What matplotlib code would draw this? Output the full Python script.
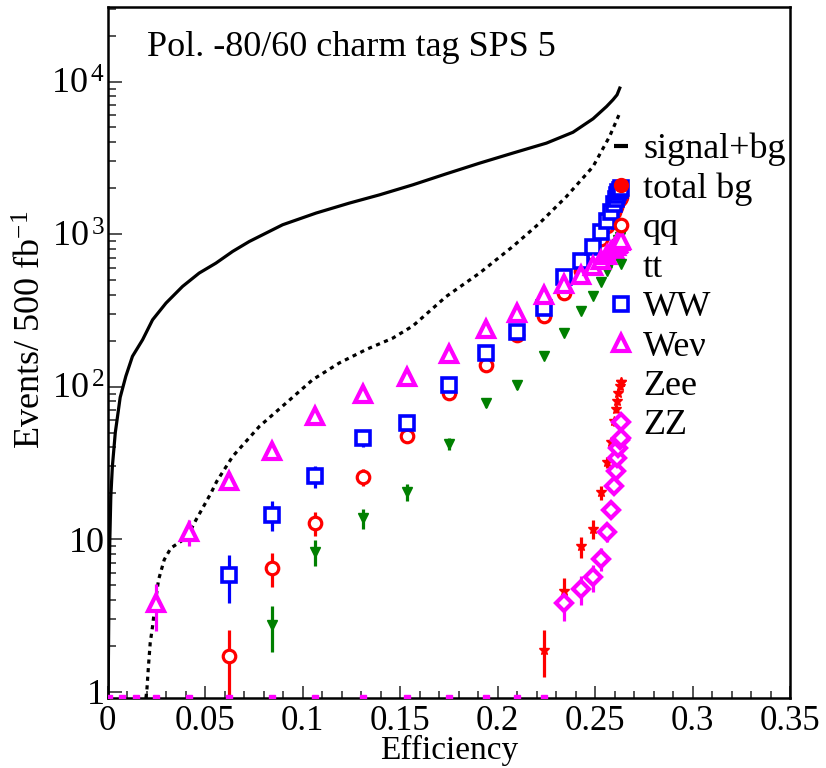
import numpy as np
import matplotlib
matplotlib.use('Agg')
import matplotlib.pyplot as plt
from matplotlib.lines import Line2D
from matplotlib.ticker import MultipleLocator, LogLocator, FixedLocator, FixedFormatter, NullFormatter

plt.rcParams['font.family'] = ['Liberation Serif', 'DejaVu Serif']
plt.rcParams['mathtext.fontset'] = 'custom'
plt.rcParams['mathtext.rm'] = 'Liberation Serif'
plt.rcParams['mathtext.it'] = 'Liberation Serif:italic'

# cut points (signal efficiency), shared by all background channels
eff = [0.0010, 0.0072, 0.0144, 0.0250, 0.0416, 0.0625, 0.0844, 0.1066, 0.1309,
       0.1535, 0.1751, 0.1939, 0.2100, 0.2237, 0.2339, 0.2430, 0.2490, 0.2533,
       0.2564, 0.2584, 0.2596, 0.2606, 0.2615, 0.2620, 0.2627, 0.2632]

qq = [0, 0, 0, 0, 0, 1.71, 6.48, 12.8, 25.6, 47.7, 90.8, 139, 219, 292, 410, 577,
      743, 927, 1133, 1280, 1400, 1500, 1590, 1650, 1710, 1760]
qq_err = [0, 0, 0, 0, 0, 0.83, 1.61, 2.26, 3.2, 4.37, 6.03, 7.46, 9.36, 10.8, 12.8,
          15.2, 17.2, 19.3, 21.3, 22.6, 23.7, 24.5, 25.2, 25.7, 26.2, 26.5]

tt = [0, 0, 0, 0, 0, 0, 2.75, 8.3, 13.8, 20.4, 42.2, 78.1, 102, 160, 224, 311,
      394, 482, 569, 661, 730, 800, 860, 910, 960, 1000]
tt_err = [0, 0, 0, 0, 0, 0, 0.92, 1.6, 2.07, 2.51, 3.62, 4.92, 5.62, 7.04, 8.33,
          9.82, 11.1, 12.2, 13.3, 14.3, 15.0, 15.7, 16.3, 16.8, 17.3, 17.6]

ww = [0, 0, 0, 0, 0, 5.85, 14.5, 25.8, 46.0, 57.7, 103, 166, 228, 327, 523, 671,
      822, 1025, 1210, 1406, 1570, 1700, 1800, 1880, 1950, 2000]
ww_err = [0, 0, 0, 0, 0, 2.02, 3.19, 4.25, 5.67, 6.36, 8.49, 10.8, 12.6, 15.1, 19.1,
          21.7, 24.0, 26.8, 29.1, 31.4, 33.2, 34.5, 35.5, 36.3, 36.9, 37.4]

wev = [0, 0, 0, 3.8, 11.2, 24.2, 37.6, 63.8, 89.4, 115.6, 164, 240, 306, 396, 472,
       541, 614, 679, 731, 770, 800, 830, 855, 875, 900, 920]
wev_err = [0, 0, 0, 1.31, 2.24, 3.30, 4.11, 5.36, 6.34, 7.21, 8.59, 10.4, 11.7, 13.3,
           14.6, 15.6, 16.6, 17.5, 18.1, 18.6, 19.0, 19.3, 19.6, 19.8, 20.1, 20.3]

zee = [0, 0, 0, 0, 0, 0, 0, 0, 0, 0, 0, 0, 0, 1.89, 4.55, 8.97, 11.7, 20.3, 31.9,
       43.1, 59.1, 71.3, 80, 90.8, 100.3, 106.6]
zee_err = [0, 0, 0, 0, 0, 0, 0, 0, 0, 0, 0, 0, 0, 0.64, 1.0, 1.4, 1.6, 2.11, 2.65,
           3.08, 3.61, 3.96, 4.2, 4.47, 4.7, 4.84]

zz = [0, 0, 0, 0, 0, 0, 0, 0, 0, 0, 0, 0, 0, 0, 3.82, 4.72, 5.65, 7.45, 11.1, 15.6,
      22.2, 28.1, 34.0, 39.6, 44.9, 46.0]
zz_err = [0, 0, 0, 0, 0, 0, 0, 0, 0, 0, 0, 0, 0, 0, 0.92, 1.02, 1.11, 1.28, 1.56,
          1.85, 2.21, 2.49, 2.73, 2.95, 3.14, 3.18]

# total background curve (dotted)
bg_eff = [0.0197, 0.0202, 0.0210, 0.0219, 0.0231, 0.0245, 0.0262, 0.0291, 0.0325,
          0.0377, 0.0419, 0.0454, 0.0488, 0.0531, 0.0560, 0.0642, 0.0779, 0.0916,
          0.1052, 0.1189, 0.1326, 0.1463, 0.1566, 0.1737, 0.1908, 0.2079, 0.2216,
          0.2353, 0.2490, 0.2575, 0.2623]
bg_val = [0.91, 1.03, 1.47, 2.09, 2.68, 3.82, 5.43, 7.34, 8.75, 9.68, 11.0, 13.4,
          16.0, 20.1, 23.9, 34.9, 54.9, 78.1, 111, 143, 175, 208, 250, 390, 555,
          830, 1180, 1760, 2770, 4370, 6050]

# signal + background curve (solid)
sig_eff = [0.0003, 0.0008, 0.0012, 0.0017, 0.0025, 0.0040, 0.0065, 0.0094, 0.0128,
           0.0180, 0.0231, 0.0300, 0.0385, 0.0470, 0.0556, 0.0642, 0.0727, 0.0898,
           0.1070, 0.1240, 0.1395, 0.1566, 0.1737, 0.1908, 0.2079, 0.2251, 0.2387,
           0.2490, 0.2559, 0.2592, 0.2613, 0.2627]
sig_val = [0.91, 5, 10, 19, 30, 50, 85, 117, 158, 203, 274, 353, 454, 555, 645, 770,
           894, 1151, 1374, 1596, 1808, 2104, 2483, 2917, 3397, 3947, 4650, 5700,
           6855, 7590, 8180, 9060]

labels = ['signal+bg', 'total bg', 'qq', 'tt', 'WW', 'Weν', 'Zee', 'ZZ']
title = 'Pol. -80/60 charm tag SPS 5'

RED = '#ff0000'
BLUE = '#0000ff'
GREEN = '#008000'
MAG = '#ff00ff'
YMIN, YMAX = 0.91, 3.08e4


def nz(v):
    a = np.asarray(v, dtype=float)
    return np.where(a > 0, a, np.nan)


fig = plt.figure(figsize=(8.26, 7.68), dpi=100)
ax = fig.add_axes([107.5 / 826, 70 / 768, 682.5 / 826, 691 / 768])
ax.set_yscale('log')

ax.plot(sig_eff, sig_val, color='black', lw=2.3, zorder=3)
ax.plot(bg_eff, bg_val, color='black', lw=2.3, ls=(0, (1.3, 1.4)), zorder=3)

ebkw = dict(ls='none', capsize=0, elinewidth=2.3, zorder=4)
ax.errorbar(eff, nz(qq), yerr=qq_err, marker='o', ms=9, mfc='white', mec=RED,
            mew=2.3, color=RED, **ebkw)
ax.errorbar(eff, nz(tt), yerr=tt_err, marker='v', ms=7, mfc=GREEN, mec=GREEN,
            color=GREEN, **ebkw)
ax.errorbar(eff, nz(ww), yerr=ww_err, marker='s', ms=10, mfc='white', mec=BLUE,
            mew=2.6, color=BLUE, **ebkw)
ax.errorbar(eff, nz(wev), yerr=wev_err, marker='^', ms=11, mfc='white', mec=MAG,
            mew=3.0, color=MAG, **ebkw)
ax.errorbar(eff, nz(zee), yerr=zee_err, marker='*', ms=7.5, mfc=RED, mec=RED,
            color=RED, **ebkw)
ax.errorbar(eff, nz(zz), yerr=zz_err, marker='D', ms=8, mfc='white', mec=MAG,
            mew=3.0, color=MAG, **ebkw)

# channels with no events sit on the lower edge
zz_arr = np.asarray(zz, dtype=float)
zero_eff = np.asarray(eff)[zz_arr <= 0]
ax.plot(zero_eff, np.full(len(zero_eff), YMIN), ls='none', marker='s', ms=4.5,
        color=MAG, zorder=5)

ax.set_xlim(0, 0.35)
ax.set_ylim(YMIN, YMAX)

ax.xaxis.set_major_locator(FixedLocator([0, 0.05, 0.1, 0.15, 0.2, 0.25, 0.3, 0.35]))
ax.xaxis.set_major_formatter(FixedFormatter(['0', '0.05', '0.1', '0.15', '0.2',
                                             '0.25', '0.3', '0.35']))
ax.xaxis.set_minor_locator(MultipleLocator(0.01))

ax.yaxis.set_major_locator(FixedLocator([1, 10, 100, 1000, 10000]))
ax.yaxis.set_major_formatter(FixedFormatter(['1', '10', r'$10^{\,2}$',
                                             r'$10^{\,3}$', r'$10^{\,4}$']))
ax.yaxis.set_minor_locator(LogLocator(base=10, subs=np.arange(2, 10)))
ax.yaxis.set_minor_formatter(NullFormatter())

ax.tick_params(which='both', direction='in', top=False, right=False,
               labelsize=26, width=1.3, color='#444444')
ax.tick_params(axis='x', which='major', length=9, pad=5, labelsize=25)
ax.tick_params(axis='x', which='minor', length=5)
ax.tick_params(axis='y', which='major', length=10, pad=2)
ax.tick_params(axis='y', which='minor', length=5.5)
for s in ax.spines.values():
    s.set_linewidth(1.8)

ax.set_xlabel('Efficiency', fontsize=24)
ax.xaxis.set_label_coords(0.5, -0.088)
ax.xaxis.label.set_va('baseline')
fig.text(32 / 826, (768 - 330) / 768, 'Events/ 500 fb$^{-1}$', rotation=90,
         ha='center', va='center', fontsize=26)

ax.text(0.058, 0.929, title, transform=ax.transAxes, fontsize=26,
        ha='left', va='baseline')

handles = [
    Line2D([], [], color='black', marker='_', ms=10, mew=3, ls='none'),
    Line2D([], [], color=RED, marker='o', ms=10, ls='none'),
    Line2D([], [], color=RED, marker='o', ms=9, mfc='white', mew=2.3, ls='none'),
    Line2D([], [], color=GREEN, marker='v', ms=7, ls='none'),
    Line2D([], [], color=BLUE, marker='s', ms=10, mfc='white', mew=2.6, ls='none'),
    Line2D([], [], color=MAG, marker='^', ms=11, mfc='white', mew=3.0, ls='none'),
    Line2D([], [], color=RED, marker='*', ms=7.5, ls='none'),
    Line2D([], [], color=MAG, marker='D', ms=8, mfc='white', mew=3.0, ls='none'),
]
leg = ax.legend(handles, labels, loc='upper left', bbox_to_anchor=(0.737, 0.818),
                frameon=False, fontsize=26, handlelength=0.6, handletextpad=0.3,
                labelspacing=0.17, borderpad=0, borderaxespad=0)

fig.savefig('out.png', dpi=100)
